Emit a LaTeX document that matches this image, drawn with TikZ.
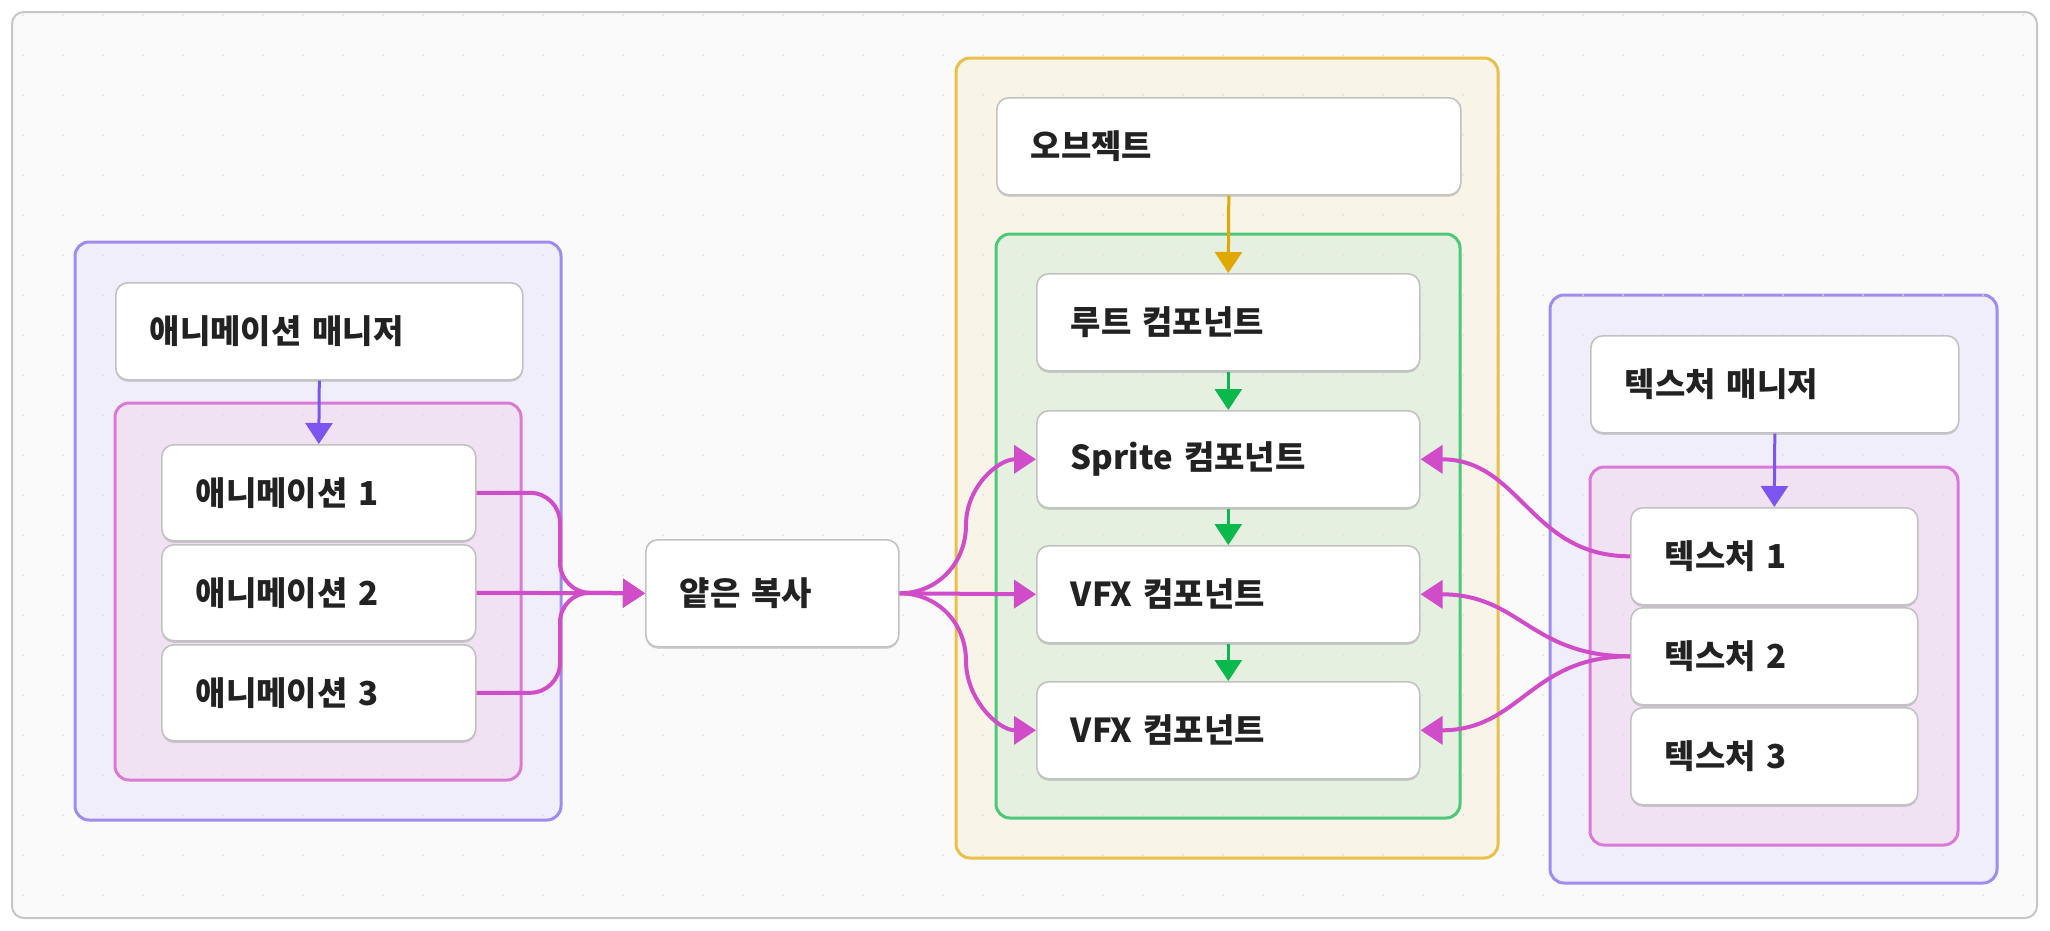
\documentclass[tikz,border=0pt]{standalone}
\usepackage{fontspec}
\setmainfont{Noto Sans CJK KR}
\usetikzlibrary{arrows.meta,shadows}

\definecolor{framec}{HTML}{C6C6C6}
\definecolor{paperc}{HTML}{FAFAFA}
\definecolor{dotc}{HTML}{DEDEDE}
\definecolor{cardline}{HTML}{C2C2C2}
\definecolor{inkc}{HTML}{222222}
\definecolor{purpline}{HTML}{A08CF0}
\definecolor{purpfill}{HTML}{F0EEFA}
\definecolor{pinkline}{HTML}{DA7AD6}
\definecolor{pinkfill}{HTML}{F0E2F3}
\definecolor{yellline}{HTML}{EAC04A}
\definecolor{yellfill}{HTML}{F8F4E8}
\definecolor{greenline}{HTML}{4CC878}
\definecolor{greenfill}{HTML}{E6F0E0}
\definecolor{purparrow}{HTML}{7B55EE}
\definecolor{yellarrow}{HTML}{E0A800}
\definecolor{greenarrow}{HTML}{0BB84C}
\definecolor{linkc}{HTML}{D04CC8}

\tikzset{
	card/.style={draw=cardline, fill=white, line width=1.6pt, rounded corners=12pt,
		anchor=north west, minimum height=97pt, inner xsep=34pt, inner ysep=2pt,
		align=left, text=inkc, font=\fontsize{33}{38}\selectfont\bfseries,
		drop shadow={shadow xshift=0pt, shadow yshift=-2pt, opacity=.15, fill=black}},
	group/.style={line width=3pt, rounded corners=14pt},
	tip/.style={-{Triangle[length=21pt,width=27pt]}},
	link/.style={draw=linkc, line width=4pt, -{Triangle[length=22pt,width=28pt]}},
}

\begin{document}
\begin{tikzpicture}[x=1pt, y=-1pt]
	\useasboundingbox (0,0) rectangle (2050,930);
	\draw[framec, fill=paperc, line width=2pt, rounded corners=12pt] (12,12) rectangle (2037,918);

	% groups
	\draw[group, draw=purpline, fill=purpfill] (75,242) rectangle (561,820);
	\draw[group, draw=pinkline, fill=pinkfill] (115,403) rectangle (521,780);
	\draw[group, draw=yellline, fill=yellfill] (956,58) rectangle (1498,858);
	\draw[group, draw=greenline, fill=greenfill] (996,234) rectangle (1460,818);
	\draw[group, draw=purpline, fill=purpfill] (1550,295) rectangle (1997,883);
	\draw[group, draw=pinkline, fill=pinkfill] (1590,467) rectangle (1958,845);

	% dot grid
	\foreach \gx in {23,63,...,2023}
		\foreach \gy in {15,55,...,895}
			\fill[dotc] (\gx,\gy) circle (1pt);

	% animation side
	\node[card, text width=339pt] (amgr) at (115,282) {애니메이션 매니저};
	\node[card, text width=246pt, minimum height=96pt] (anim1) at (161,444) {애니메이션 1};
	\node[card, text width=246pt, minimum height=96pt] (anim2) at (161,544) {애니메이션 2};
	\node[card, text width=246pt, minimum height=96pt] (anim3) at (161,644) {애니메이션 3};
	\node[card, text width=185pt, minimum height=107pt] (copy) at (645,539) {얕은 복사};

	% object
	\node[card, text width=396pt] (obj) at (996,97) {오브젝트};
	\node[card, text width=315pt] (root) at (1036,273) {루트 컴포넌트};
	\node[card, text width=315pt] (sprite) at (1036,410) {Sprite 컴포넌트};
	\node[card, text width=315pt] (vfxa) at (1036,545) {VFX 컴포넌트};
	\node[card, text width=315pt] (vfxb) at (1036,681) {VFX 컴포넌트};

	% texture side
	\node[card, text width=300pt] (tmgr) at (1590,335) {텍스처 매니저};
	\node[card, text width=219pt] (tex1) at (1630,507) {텍스처 1};
	\node[card, text width=219pt] (tex2) at (1630,607) {텍스처 2};
	\node[card, text width=219pt] (tex3) at (1630,707) {텍스처 3};

	\draw[tip, purparrow, line width=3pt] (amgr.south) -- (anim1.north);
	\draw[tip, purparrow, line width=3pt] (tmgr.south) -- (tex1.north);
	\draw[tip, yellarrow, line width=3pt] (obj.south) -- (root.north);
	\draw[tip, greenarrow, line width=3pt] (root.south) -- (sprite.north);
	\draw[tip, greenarrow, line width=3pt] (sprite.south) -- (vfxa.north);
	\draw[tip, greenarrow, line width=3pt] (vfxa.south) -- (vfxb.north);

	% shallow copy fan
	\coordinate (lbus) at (560,592.5);
	\coordinate (mup) at (966,525);
	\coordinate (mdown) at (966,661);
	\draw[link, rounded corners=30pt] (anim1.east) -| (lbus) -- (copy.west);
	\draw[link] (anim2.east) -- (copy.west);
	\draw[link, rounded corners=30pt] (anim3.east) -| (lbus) -- (copy.west);
	\draw[link] (copy.east) .. controls +(38,0) and +(0,38) .. (mup) .. controls +(0,-38) and +(-38,0) .. (sprite.west);
	\draw[link] (copy.east) -- (vfxa.west);
	\draw[link] (copy.east) .. controls +(38,0) and +(0,-38) .. (mdown) .. controls +(0,38) and +(-38,0) .. (vfxb.west);

	% textures to components
	\draw[link] (tex1.west) .. controls +(-100,0) and +(100,0) .. (sprite.east);
	\draw[link] (tex2.west) .. controls +(-100,0) and +(100,0) .. (vfxa.east);
	\draw[link] (tex2.west) .. controls +(-100,0) and +(100,0) .. (vfxb.east);
\end{tikzpicture}
\end{document}
